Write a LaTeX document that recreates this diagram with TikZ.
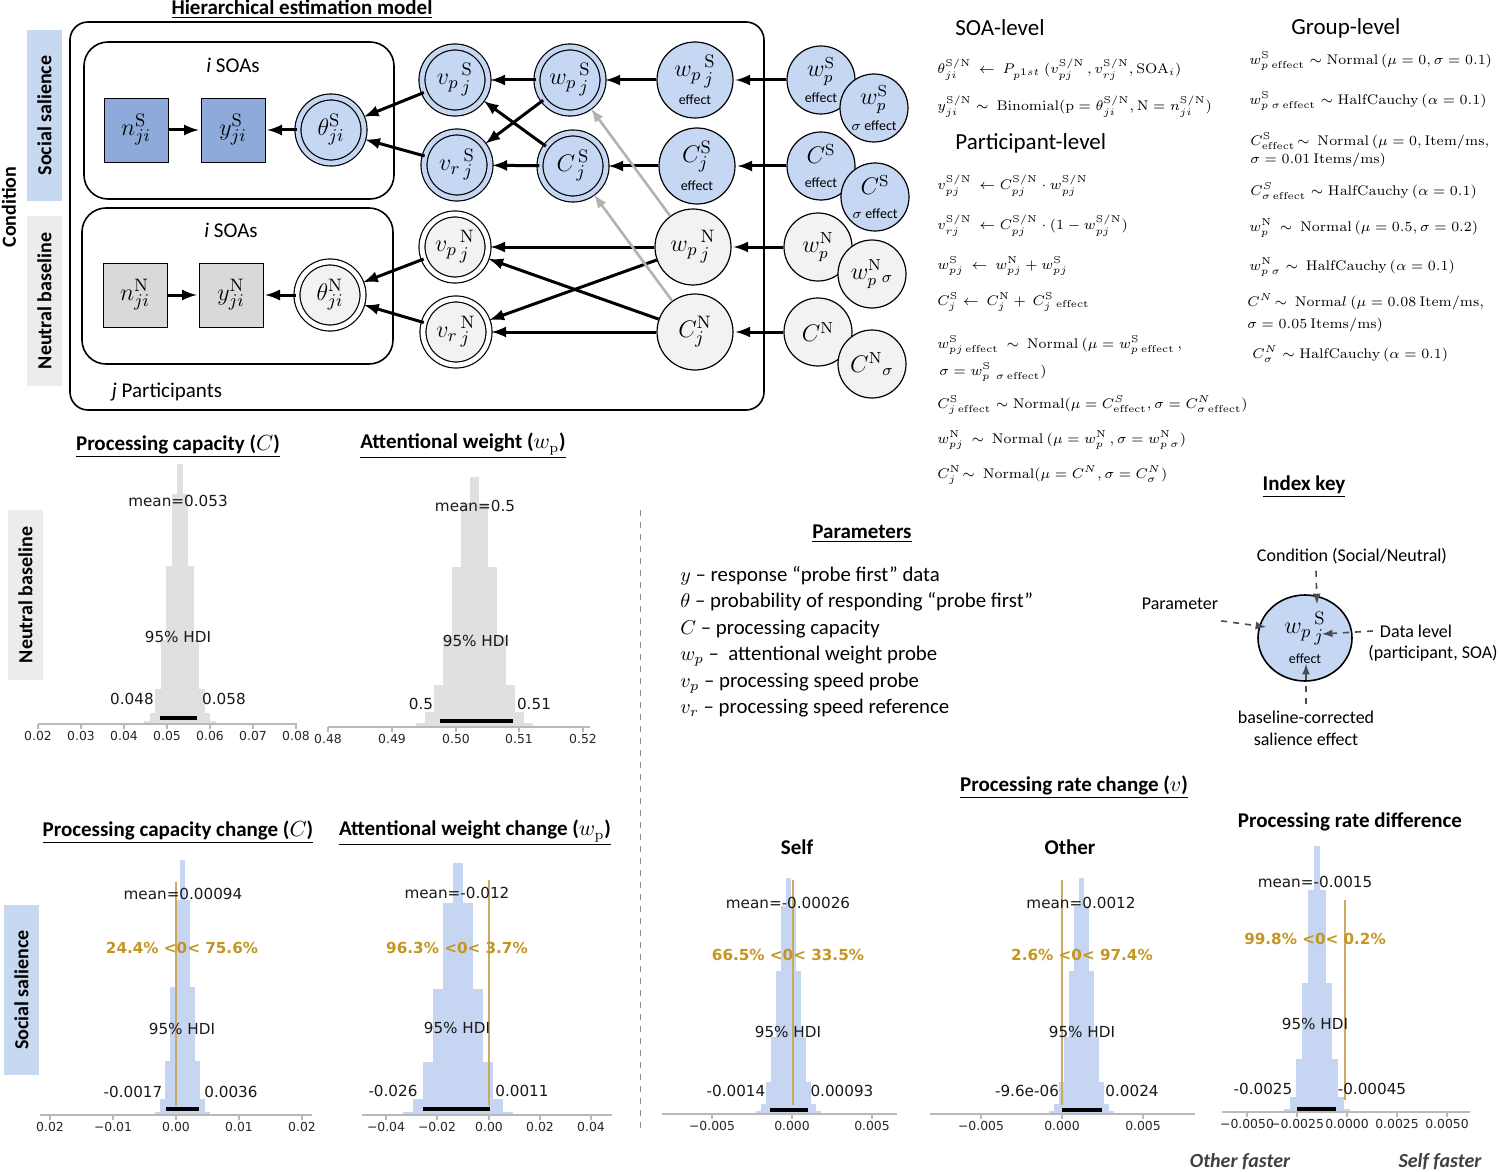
\documentclass[tikz,border=0pt]{standalone}
\usepackage[no-math]{fontspec}
\setmainfont{Carlito}
\newfontfamily\plotfont{DejaVu Sans}
\usetikzlibrary{shapes.geometric}

\definecolor{nodeblue}{RGB}{197,215,243}
\definecolor{sqblue}{RGB}{142,170,219}
\definecolor{sqgray}{RGB}{217,217,217}
\definecolor{nodegray}{RGB}{242,242,242}
\definecolor{sideblue}{RGB}{198,217,241}
\definecolor{sidegray}{RGB}{236,236,236}
\definecolor{histgray}{RGB}{224,224,224}
\definecolor{histblue}{RGB}{198,214,242}
\definecolor{nullcol}{RGB}{205,170,100}
\definecolor{pctcol}{RGB}{195,150,35}
\definecolor{aksecol}{RGB}{185,185,185}

\newcommand{\litetxt}{\fontsize{7}{7}\selectfont}
% histogram: senter, grunnlinje, sd, bredde, hoyde, farge, antall
\newcommand{\histo}[7]{%
  \foreach \k in {-#7,...,#7}{
    \pgfmathsetmacro{\hh}{#5*exp(-0.5*(\k*#4/#3)*(\k*#4/#3))}
    \fill[#6] ({#1+(\k-0.5)*#4},#2) rectangle ({#1+(\k+0.5)*#4},{#2-\hh});
  }}
% akse med merker
\newcommand{\akse}[4]{%
  \draw[akse] (#1,#3) -- (#2,#3);
  \foreach \p/\t in {#4}{
    \draw[akse] (\p,#3) -- (\p,#3+5) node[tikk] {\t};
  }}

\begin{document}
\begin{tikzpicture}[x=0.5pt, y=-0.5pt,
  sqS/.style={draw, fill=sqblue, minimum size=32pt, inner sep=0pt, font=\fontsize{13}{13}\selectfont},
  sqN/.style={sqS, fill=sqgray},
  dblS/.style={circle, draw, line width=0.6pt, double=nodeblue, double distance=2.4pt, fill=nodeblue,
    minimum size=33pt, inner sep=0pt, font=\fontsize{13}{13}\selectfont},
  dblN/.style={dblS, double=white, fill=nodegray},
  knS/.style={circle, draw, line width=0.6pt, fill=nodeblue, minimum size=38pt, inner sep=0pt,
    align=center, font=\fontsize{13}{11}\selectfont},
  knN/.style={knS, fill=nodegray},
  grS/.style={knS, minimum size=34pt, font=\fontsize{12}{10}\selectfont},
  grN/.style={grS, fill=nodegray},
  pil/.style={line width=1.5pt, -latex, shorten >=1pt},
  graapil/.style={pil, draw=black!30, line width=1.3pt},
  stiplet/.style={dashed, thick, draw=black!70, -latex},
  sidebox/.style={rotate=90, minimum width=85pt, minimum height=17.5pt, inner sep=0pt,
    font=\bfseries\fontsize{10}{10}\selectfont},
  tittel/.style={font=\bfseries\fontsize{10.5}{12}\selectfont},
  overskrift/.style={anchor=west, inner sep=0pt, font=\fontsize{11.5}{13}\selectfont},
  eq/.style={anchor=west, inner sep=0pt, font=\fontsize{7.1}{9}\selectfont},
  akse/.style={draw=aksecol, line width=0.6pt},
  tikk/.style={below, inner sep=1pt, font=\plotfont\fontsize{6.2}{7}\selectfont, text=black!85},
  ptxt/.style={inner sep=0pt, font=\plotfont\fontsize{7.6}{9}\selectfont, text=black!90},
  pct/.style={inner sep=0pt, font=\plotfont\bfseries\fontsize{7.6}{9}\selectfont, text=pctcol},
  nullinje/.style={draw=nullcol, line width=0.7pt},
  hdi/.style={line width=2pt}]

  \useasboundingbox (0,0) rectangle (1500,1172);

  % hierarkisk modell
  \node[tittel] (modell) at (302,9) {\underline{Hierarchical estimation model}};
  \node[rotate=90, font=\bfseries\fontsize{10}{10}\selectfont] (cond) at (9,207) {Condition};
  \node[sidebox, fill=sideblue] (sideS) at (44.5,115.5) {Social salience};
  \node[sidebox, fill=sidegray] (sideN) at (44.5,301) {Neutral baseline};

  \draw[line width=0.8pt, rounded corners=9pt] (70,22) rectangle (764,410);
  \draw[line width=0.8pt, rounded corners=12pt] (84,42) rectangle (394,199);
  \draw[line width=0.8pt, rounded corners=12pt] (82,208) rectangle (393,364);
  \node[font=\fontsize{10.5}{12}\selectfont] (soaS) at (233,65) {\textit{i} SOAs};
  \node[font=\fontsize{10.5}{12}\selectfont] (soaN) at (231,230) {\textit{i} SOAs};
  \node[font=\fontsize{10.5}{12}\selectfont] (delt) at (167,392) {\textit{j} Participants};

  % SOA-niva
  \node[sqS] (nS) at (136,130) {$n_{ji}^{\mathrm{S}}$};
  \node[sqS] (yS) at (233,130) {$y_{ji}^{\mathrm{S}}$};
  \node[dblS] (thS) at (331,130) {$\theta_{ji}^{\mathrm{S}}$};
  \node[sqN] (nN) at (135,295) {$n_{ji}^{\mathrm{N}}$};
  \node[sqN] (yN) at (231,295) {$y_{ji}^{\mathrm{N}}$};
  \node[dblN] (thN) at (330,295) {$\theta_{ji}^{\mathrm{N}}$};

  % deltakerniva
  \node[dblS] (vpS) at (455,80) {${v_p}_{\,j}^{\,\mathrm{S}}$};
  \node[dblS] (vrS) at (457,165) {${v_r}_{\,j}^{\,\mathrm{S}}$};
  \node[dblN] (vpN) at (455,247) {${v_p}_{\,j}^{\,\mathrm{N}}$};
  \node[dblN] (vrN) at (456,332) {${v_r}_{\,j}^{\,\mathrm{N}}$};
  \node[dblS] (wpS) at (570,80) {${w_p}_{\,j}^{\,\mathrm{S}}$};
  \node[dblS] (CS) at (573,166) {$C_{\,j}^{\,\mathrm{S}}$};
  \node[knS] (wpSe) at (695,80) {${w_p}_{\,j}^{\,\mathrm{S}}$\\[3pt]{\litetxt effect}};
  \node[knS] (CSe) at (697,166) {$C_j^{\mathrm{S}}$\\[3pt]{\litetxt effect}};
  \node[knN] (wpN) at (693,247) {${w_p}_{\,j}^{\,\mathrm{N}}$};
  \node[knN] (CN) at (695,332) {$C_j^{\mathrm{N}}$};

  % gruppeniva
  \node[grS] (gwS) at (821,80) {$w_p^{\mathrm{S}}$\\[3pt]{\litetxt effect}};
  \node[grS] (gwSs) at (874,108) {$w_p^{\mathrm{S}}$\\[3pt]{\litetxt $\sigma$ effect}};
  \node[grS] (gCS) at (821,166) {$C^{\mathrm{S}}$\\[2pt]{\litetxt effect}};
  \node[grS] (gCSs) at (875,197) {$C^{\mathrm{S}}$\\[2pt]{\litetxt $\sigma$ effect}};
  \node[grN] (gwN) at (818,247) {$w_p^{\mathrm{N}}$};
  \node[grN] (gwNs) at (872,274) {$w_p^{\mathrm{N}}{}_{\sigma}$};
  \node[grN] (gCN) at (818,332) {$C^{\mathrm{N}}$};
  \node[grN] (gCNs) at (872,364) {$C^{\mathrm{N}}{}_{\sigma}$};

  % piler
  \draw[pil] (nS) -- (yS);
  \draw[pil] (thS) -- (yS);
  \draw[pil] (vpS) -- (thS);
  \draw[pil] (vrS) -- (thS);
  \draw[pil] (nN) -- (yN);
  \draw[pil] (thN) -- (yN);
  \draw[pil] (vpN) -- (thN);
  \draw[pil] (vrN) -- (thN);
  \draw[pil] (wpS) -- (vpS);
  \draw[pil] (wpS) -- (vrS);
  \draw[pil] (CS) -- (vrS);
  \draw[pil] (CS) -- (vpS);
  \draw[pil] (wpN) -- (vpN);
  \draw[pil] (wpN) -- (vrN);
  \draw[pil] (CN) -- (vrN);
  \draw[pil] (CN) -- (vpN);
  \draw[pil] (wpSe) -- (wpS);
  \draw[pil] (CSe) -- (CS);
  \draw[graapil] (wpN) -- (wpS);
  \draw[graapil] (CN) -- (CS);
  \draw[pil] (gwS) -- (wpSe);
  \draw[pil] (gCS) -- (CSe);
  \draw[pil] (gwN) -- (wpN);
  \draw[pil] (gCN) -- (CN);

  % ligninger
  \node[overskrift] (soaniva) at (955,28) {SOA-level};
  \node[eq] (e1) at (937,70) {$\theta_{ji}^{\mathrm{S/N}}\ \leftarrow\ P_{p^{1st}}\,(v_{pj}^{\mathrm{S/N}}\,,v_{rj}^{\mathrm{S/N}},\mathrm{SOA}_i)$};
  \node[eq] (e2) at (937,107) {$y_{ji}^{\mathrm{S/N}}\sim\ \mathrm{Binomial}(\mathrm{p}=\theta_{ji}^{\mathrm{S/N}},\mathrm{N}=n_{ji}^{\mathrm{S/N}})$};
  \node[overskrift] (deltniva) at (955,143) {Participant-level};
  \node[eq] (e3) at (937,186) {$v_{pj}^{\mathrm{S/N}}\ \leftarrow C_{pj}^{\mathrm{S/N}}\cdot w_{pj}^{\mathrm{S/N}}$};
  \node[eq] (e4) at (937,226) {$v_{rj}^{\mathrm{S/N}}\ \leftarrow C_{pj}^{\mathrm{S/N}}\cdot(1-w_{pj}^{\mathrm{S/N}})$};
  \node[eq] (e5) at (937,266) {$w_{pj}^{\mathrm{S}}\ \leftarrow\ w_{pj}^{\mathrm{N}}+w_{pj}^{\mathrm{S}}$};
  \node[eq] (e6) at (937,302) {$C_j^{\mathrm{S}}\leftarrow\ C_j^{\mathrm{N}}+\ C_j^{\mathrm{S}}{}_{\,\mathrm{effect}}$};
  \node[eq] (e7) at (937,345) {$w_{pj\,\mathrm{effect}}^{\mathrm{S}}\ \sim\ \mathrm{Normal}\ (\mu=w_{p\ \mathrm{effect}}^{\mathrm{S}}\,,$};
  \node[eq] (e7b) at (939,372) {$\sigma=w_{p\ \ \sigma\,\mathrm{effect}}^{\mathrm{S}})$};
  \node[eq] (e8) at (937,405) {$C_{j\,\mathrm{effect}}^{\mathrm{S}}\sim\mathrm{Normal}(\mu=C_{\mathrm{effect}}^{S},\sigma=C_{\sigma\,\mathrm{effect}}^{N})$};
  \node[eq] (e9) at (937,440) {$w_{pj}^{\mathrm{N}}\ \sim\ \mathrm{Normal}\ (\mu=w_p^{\mathrm{N}}\,,\sigma=w_{p\ \sigma}^{\mathrm{N}})$};
  \node[eq] (e10) at (937,475) {$C_j^{\mathrm{N}}\!\sim\ \mathrm{Normal}(\mu=C^N,\sigma=C_\sigma^N)$};

  \node[overskrift] (grniva) at (1291,28) {Group-level};
  \node[eq] (g1) at (1249,61) {$w_{p\ \mathrm{effect}}^{\mathrm{S}}\sim\mathrm{Normal}\,(\mu=0,\sigma=0.1)$};
  \node[eq] (g2) at (1249,101) {$w_{p\ \sigma\,\mathrm{effect}}^{\mathrm{S}}\sim\mathrm{HalfCauchy}\,(\alpha=0.1)$};
  \node[eq] (g3) at (1250,141) {$C_{\mathrm{effect}}^{\mathrm{S}}\!\sim\ \mathrm{Normal}\,(\mu=0,\mathrm{Item/ms},$};
  \node[eq] (g3b) at (1250,160) {$\sigma=0.01\ \mathrm{Items/ms})$};
  \node[eq] (g4) at (1250,191) {$C_{\sigma\,\mathrm{effect}}^{S}\sim\mathrm{HalfCauchy}\,(\alpha=0.1)$};
  \node[eq] (g5) at (1249,228) {$w_p^{\mathrm{N}}\ \sim\ \mathrm{Normal}\,(\mu=0.5,\sigma=0.2)$};
  \node[eq] (g6) at (1249,267) {$w_{p\ \sigma}^{\mathrm{N}}\sim\ \mathrm{HalfCauchy}\,(\alpha=0.1)$};
  \node[eq] (g7) at (1247,302) {$C^N\!\sim\ \mathrm{Norma}l\ (\mu=0.08\ \mathrm{Item/ms},$};
  \node[eq] (g7b) at (1247,325) {$\sigma=0.05\ \mathrm{Items/ms})$};
  \node[eq] (g8) at (1252,354) {$C_\sigma^N\sim\mathrm{HalfCauchy}\,(\alpha=0.1)$};

  % noytral baseline
  \node[tittel] (tC) at (178,446) {\underline{Processing capacity ($C$)}};
  \node[tittel] (tW) at (463,446) {\underline{Attentional weight ($w_{\mathrm{p}}$)}};
  \node[sidebox, fill=sidegray] (sideN2) at (25.5,595) {Neutral baseline};
  \draw[dashed, draw=black!45] (640,510) -- (640,1132);

  \histo{180}{724}{11}{5.5}{260}{histgray}{8}
  \akse{38}{297}{724}{38/0.02,81/0.03,124/0.04,167/0.05,210/0.06,253/0.07,296/0.08}
  \draw[hdi] (160,718) -- (197,718);
  \node[ptxt] (mA) at (178,501) {mean=0.053};
  \node[ptxt] (hA) at (178,637) {95\% HDI};
  \node[ptxt] (lA) at (132,699) {0.048};
  \node[ptxt] (rA) at (224,699) {0.058};

  \histo{474}{727}{19}{9}{250}{histgray}{8}
  \akse{328}{590}{727}{328/0.48,392/0.49,456/0.50,519/0.51,583/0.52}
  \draw[hdi] (440,721) -- (513,721);
  \node[ptxt] (mB) at (475,506) {mean=0.5};
  \node[ptxt] (hB) at (476,641) {95\% HDI};
  \node[ptxt] (lB) at (421,704) {0.5};
  \node[ptxt] (rB) at (534,704) {0.51};

  % parametre og indeks
  \node[tittel] (param) at (862,534) {\underline{Parameters}};
  \node[anchor=north west, align=left, inner sep=0pt, font=\fontsize{10.4}{13.2}\selectfont] (plist) at (680,566)
    {$y$ -- response “probe first” data\\
     $\theta$ -- probability of responding “probe first”\\
     $C$ -- processing capacity\\
     $w_p$ --\ \ attentional weight probe\\
     $v_p$ -- processing speed probe\\
     $v_r$ -- processing speed reference};

  \node[tittel] (ikey) at (1304,487) {\underline{Index key}};
  \node[ellipse, draw, line width=0.8pt, fill=nodeblue, minimum width=47pt, minimum height=43pt,
    inner sep=0pt, align=center, font=\fontsize{13}{11}\selectfont] (idx) at (1305,638)
    {${w_p}_{\,j}^{\,\mathrm{S}}$\\[4pt]{\litetxt effect}};
  \node[font=\fontsize{9}{11}\selectfont] (kcond) at (1352,556) {Condition (Social/Neutral)};
  \node[font=\fontsize{9}{11}\selectfont] (kpar) at (1180,604) {Parameter};
  \node[font=\fontsize{9}{11}\selectfont] (kdat) at (1416,631) {Data level};
  \node[font=\fontsize{9}{11}\selectfont] (kdat2) at (1433,653) {(participant, SOA)};
  \node[align=center, font=\fontsize{9}{11}\selectfont] (kbase) at (1306,728) {baseline-corrected\\salience effect};
  \coordinate (iS) at (1317,604);
  \coordinate (iW) at (1266,627);
  \coordinate (iJ) at (1322,634);
  \coordinate (iE) at (1306,664);
  \draw[stiplet] ([xshift=-18pt]kcond.south) -- (iS);
  \draw[stiplet] ([xshift=-2pt,yshift=-2pt]kpar.south east) -- (iW);
  \draw[stiplet] (kdat.west) -- (iJ);
  \draw[stiplet] (kbase.north) -- (iE);

  % sosial salience
  \node[tittel] (tCc) at (178,832) {\underline{Processing capacity change ($C$)}};
  \node[tittel] (tWc) at (475,833) {\underline{Attentional weight change ($w_{\mathrm{p}}$)}};
  \node[sidebox, fill=sideblue] (sideS2) at (21.5,990) {Social salience};

  \histo{182}{1115}{8.5}{5}{255}{histblue}{8}
  \akse{40}{312}{1115}{50/0.02,113/−0.01,176/0.00,239/0.01,302/0.02}
  \draw[nullinje] (176,882) -- (176,1106);
  \draw[hdi] (166,1109) -- (199,1109);
  \node[ptxt] (mC) at (183,894) {mean=0.00094};
  \node[pct] (pC) at (182,948) {24.4\% <0< 75.6\%};
  \node[ptxt] (hC) at (182,1029) {95\% HDI};
  \node[ptxt] (lC) at (133,1092) {-0.0017};
  \node[ptxt] (rC) at (231,1092) {0.0036};

  \histo{458}{1115}{17}{10}{252}{histblue}{7}
  \akse{362}{612}{1115}{386/−0.04,437/−0.02,489/0.00,540/0.02,591/0.04}
  \draw[nullinje] (489,880) -- (489,1106);
  \draw[hdi] (423,1109) -- (490,1109);
  \node[ptxt] (mD) at (457,893) {mean=-0.012};
  \node[pct] (pD) at (457,948) {96.3\% <0< 3.7\%};
  \node[ptxt] (hD) at (457,1028) {95\% HDI};
  \node[ptxt] (lD) at (393,1091) {-0.026};
  \node[ptxt] (rD) at (522,1091) {0.0011};

  % prosesseringsrate
  \node[tittel] (tV) at (1074,787) {\underline{Processing rate change ($v$)}};
  \node[tittel] (tSelf) at (797,847) {Self};
  \node[tittel] (tOther) at (1070,847) {Other};
  \node[tittel] (tDiff) at (1350,822) {Processing rate difference};

  \histo{788}{1114}{10}{5}{236}{histblue}{9}
  \akse{662}{897}{1114}{712/−0.005,792/0.000,872/0.005}
  \draw[nullinje] (793,880) -- (793,1105);
  \draw[hdi] (770,1110) -- (808,1110);
  \node[ptxt] (mE) at (788,903) {mean=-0.00026};
  \node[pct] (pE) at (788,955) {66.5\% <0< 33.5\%};
  \node[ptxt] (hE) at (788,1032) {95\% HDI};
  \node[ptxt] (lE) at (736,1091) {-0.0014};
  \node[ptxt] (rE) at (842,1091) {0.00093};

  \histo{1081}{1114}{10}{5}{236}{histblue}{9}
  \akse{930}{1195}{1114}{981/−0.005,1062/0.000,1143/0.005}
  \draw[nullinje] (1062,880) -- (1062,1105);
  \draw[hdi] (1062,1110) -- (1102,1110);
  \node[ptxt] (mF) at (1081,903) {mean=0.0012};
  \node[pct] (pF) at (1082,955) {2.6\% <0< 97.4\%};
  \node[ptxt] (hF) at (1082,1032) {95\% HDI};
  \node[ptxt] (lF) at (1027,1091) {-9.6e-06};
  \node[ptxt] (rF) at (1132,1091) {0.0024};

  \histo{1317}{1112}{10}{6}{266}{histblue}{7}
  \akse{1222}{1470}{1112}{1247/−0.0050,1297/−0.0025,1347/0.0000,1397/0.0025,1447/0.0050}
  \draw[nullinje] (1345,900) -- (1345,1100);
  \draw[hdi] (1297,1109) -- (1336,1109);
  \node[ptxt] (mG) at (1315,882) {mean=-0.0015};
  \node[pct] (pG) at (1315,939) {99.8\% <0< 0.2\%};
  \node[ptxt] (hG) at (1315,1024) {95\% HDI};
  \node[ptxt] (lG) at (1263,1089) {-0.0025};
  \node[ptxt] (rG) at (1372,1089) {-0.00045};
  \node[font=\bfseries\itshape\fontsize{10}{12}\selectfont, text=black!75] (oF) at (1240,1162) {Other faster};
  \node[font=\bfseries\itshape\fontsize{10}{12}\selectfont, text=black!75] (sF) at (1440,1162) {Self faster};
\end{tikzpicture}
\end{document}
